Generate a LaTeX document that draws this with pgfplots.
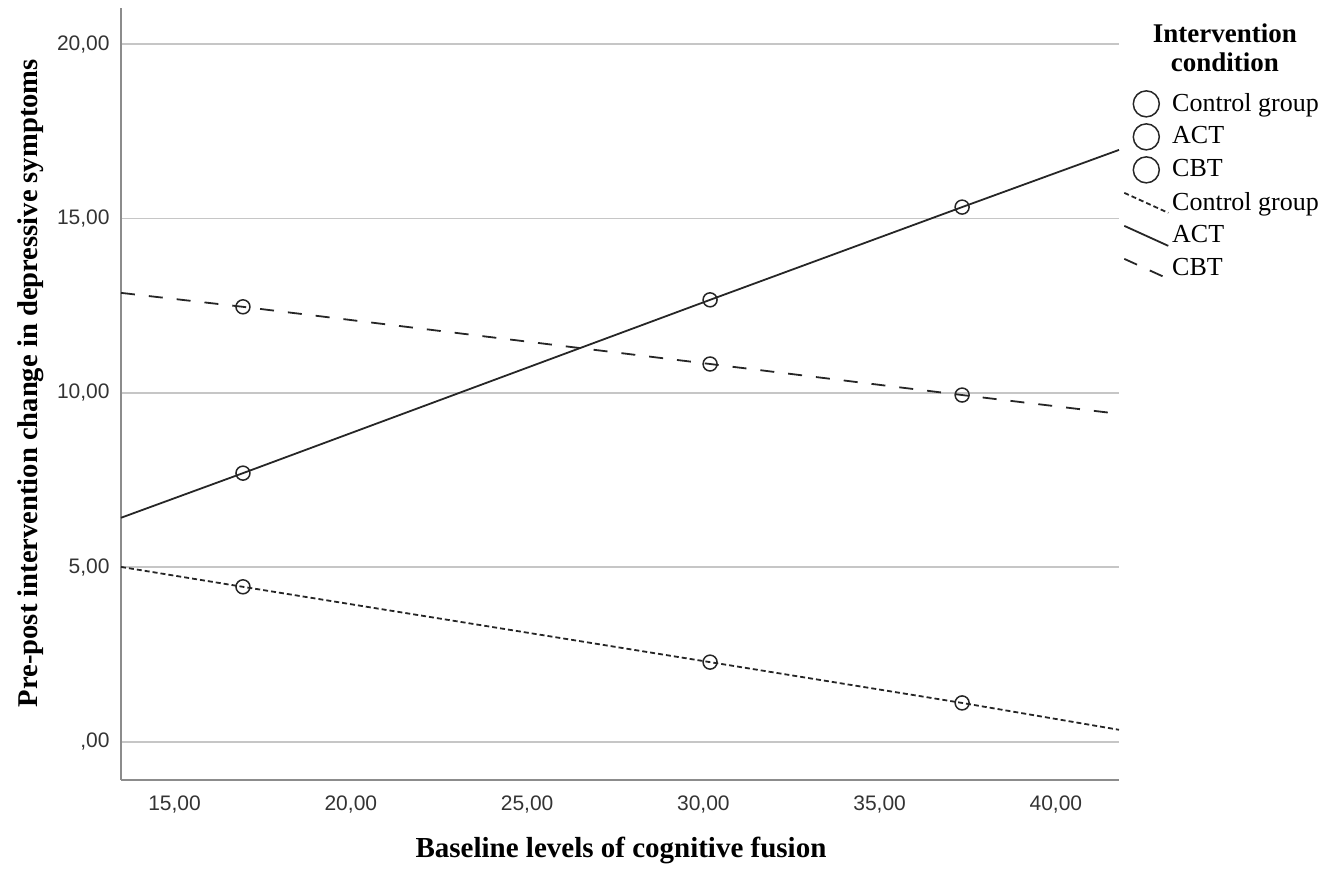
\documentclass[border=0pt]{standalone}
\usepackage{pgfplots}
\pgfplotsset{compat=1.18}
\usepackage{fontspec}
\setmainfont{Liberation Serif}
\newfontfamily\arial{Liberation Sans}
\begin{document}
\begin{tikzpicture}
\begin{axis}[
  scale only axis,
  width=499pt, height=386pt,
  xmin=13.48, xmax=41.79, ymin=-1.10, ymax=21.04,
  axis x line*=bottom, axis y line*=left,
  axis line style={gray!90, line width=1.1pt},
  major tick length=0pt,
  xtick={15,20,25,30,35,40},
  xticklabels={{15,00},{20,00},{25,00},{30,00},{35,00},{40,00}},
  ytick={0,5,10,15,20},
  yticklabels={{,00},{5,00},{10,00},{15,00},{20,00}},
  xticklabel style={font=\arial\fontsize{10.5}{12}\selectfont, text=black!80, inner sep=0pt, anchor=north, yshift=-7.5pt},
  yticklabel style={font=\arial\fontsize{10.5}{12}\selectfont, text=black!80, inner sep=0pt, anchor=east, xshift=-5.5pt},
  ymajorgrids, major grid style={gray!45, line width=0.9pt},
  xlabel={Baseline levels of cognitive fusion},
  ylabel={Pre-post intervention change in depressive symptoms},
  xlabel style={font=\bfseries\fontsize{14.5}{16}\selectfont, at={(axis description cs:0.501,-0.0907)}, anchor=center},
  ylabel style={font=\bfseries\fontsize{14.3}{16}\selectfont, at={(axis description cs:-0.0905,0.514)}, anchor=center},
  clip=false,
  legend cell align=left,
  legend style={at={(axis description cs:1.004,0.8977)}, anchor=north west, draw=none, fill=none, inner sep=0pt,
    font=\fontsize{13}{15}\selectfont, row sep=0pt,
    nodes={inner ysep=0pt, inner xsep=1.5pt, minimum height=16.5pt}},
  legend image code/.code={\draw[#1] (0pt,5pt) -- (22pt,-5pt);},
]
\addplot[only marks, mark=o, mark size=3.5pt, mark options={line width=0.75pt, fill=none}, black!85,
  legend image code/.code={\draw[black!85, line width=0.75pt] (11pt,0pt) circle (6.5pt);}]
  coordinates {(16.94,4.44) (30.19,2.28) (37.34,1.11)};
\addlegendentry{Control group}
\addplot[only marks, mark=o, mark size=3.5pt, mark options={line width=0.75pt, fill=none}, black!85,
  legend image code/.code={\draw[black!85, line width=0.75pt] (11pt,0pt) circle (6.5pt);}]
  coordinates {(16.94,7.70) (30.19,12.67) (37.34,15.33)};
\addlegendentry{ACT}
\addplot[only marks, mark=o, mark size=3.5pt, mark options={line width=0.75pt, fill=none}, black!85,
  legend image code/.code={\draw[black!85, line width=0.75pt] (11pt,0pt) circle (6.5pt);}]
  coordinates {(16.94,12.47) (30.19,10.83) (37.34,9.94)};
\addlegendentry{CBT}
\addplot[black!85, line width=0.9pt, dash pattern=on 2.5pt off 1.5pt]
  coordinates {(13.48,5.01) (16.94,4.44) (30.19,2.28) (37.34,1.11) (41.79,0.34)};
\addlegendentry{Control group}
\addplot[black!85, line width=0.9pt]
  coordinates {(13.48,6.42) (16.94,7.70) (30.19,12.67) (37.34,15.33) (41.79,16.97)};
\addlegendentry{ACT}
\addplot[black!85, line width=0.9pt, dash pattern=on 7pt off 7pt]
  coordinates {(13.48,12.87) (16.94,12.47) (30.19,10.83) (37.34,9.94) (41.79,9.40)};
\addlegendentry{CBT}
\node[font=\bfseries\fontsize{13.5}{15}\selectfont, anchor=center] at (axis description cs:1.106,0.9676) {Intervention};
\node[font=\bfseries\fontsize{13.5}{15}\selectfont, anchor=center] at (axis description cs:1.106,0.930) {condition};
\end{axis}
\pgfresetboundingbox
\path (-60.5pt,-46pt) rectangle (610pt,390pt);
\end{tikzpicture}
\end{document}
